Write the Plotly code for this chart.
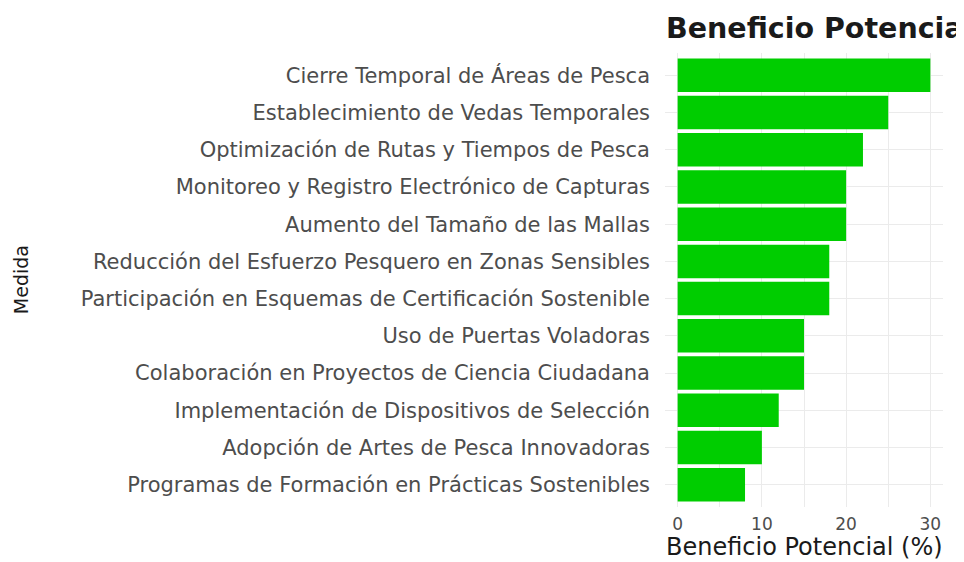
import plotly.graph_objects as go

medidas = [
    "Cierre Temporal de Áreas de Pesca",
    "Establecimiento de Vedas Temporales",
    "Optimización de Rutas y Tiempos de Pesca",
    "Monitoreo y Registro Electrónico de Capturas",
    "Aumento del Tamaño de las Mallas",
    "Reducción del Esfuerzo Pesquero en Zonas Sensibles",
    "Participación en Esquemas de Certificación Sostenible",
    "Uso de Puertas Voladoras",
    "Colaboración en Proyectos de Ciencia Ciudadana",
    "Implementación de Dispositivos de Selección",
    "Adopción de Artes de Pesca Innovadoras",
    "Programas de Formación en Prácticas Sostenibles",
]
beneficio = [30, 25, 22, 20, 20, 18, 18, 15, 15, 12, 10, 8]
x_ticks = [0, 10, 20, 30]

FONT = "DejaVu Sans, Arial, sans-serif"
GRID = "#EBEBEB"

fig = go.Figure(go.Bar(
    x=beneficio, y=medidas, orientation="h",
    marker=dict(color="#00CD00", line=dict(width=0)),
))

# page body adds an 8px offset, so the figure is 8px smaller
W, H = 956, 554
L, R, T, B = 657, 20.5, 44.5, 54.6
pw = W - L - R
ph = H - T - B

fig.update_layout(
    width=W, height=H,
    margin=dict(l=L, r=R, t=T, b=B, autoexpand=False),
    plot_bgcolor="white", paper_bgcolor="white",
    bargap=0.1, showlegend=False,
    font=dict(family=FONT),
    title=dict(text="<b>Beneficio Potencial de las Medidas</b>", x=658 / W, xanchor="left",
               y=1 - 20 / H, yanchor="middle",
               font=dict(size=28.5, color="#1A1A1A", family=FONT)),
    xaxis=dict(range=[-1.5, 31.5], tickvals=x_ticks, showgrid=True, gridcolor=GRID,
               gridwidth=1.2, zeroline=False, showline=False, ticks="",
               tickfont=dict(size=17, color="#4D4D4D"), ticklabelstandoff=5,
               minor=dict(dtick=5, tick0=0, showgrid=True, gridcolor=GRID, gridwidth=0.6),
               fixedrange=True),
    yaxis=dict(autorange=False, range=[11.6, -0.6], showgrid=True, gridcolor=GRID,
               gridwidth=1.2, zeroline=False, showline=False, ticks="",
               tickfont=dict(size=21, color="#4D4D4D"), ticklabelstandoff=14,
               fixedrange=True),
    annotations=[
        dict(text="Beneficio Potencial (%)", xref="paper", yref="paper",
             x=(797 - L) / pw, y=-(539.5 - (H - B)) / ph, xanchor="center", yanchor="middle",
             showarrow=False, font=dict(size=24, color="#1A1A1A", family=FONT)),
        dict(text="Medida", xref="paper", yref="paper",
             x=(12 - L) / pw, y=0.5, xanchor="center", yanchor="middle", textangle=-90,
             showarrow=False, font=dict(size=19, color="#1A1A1A", family=FONT)),
    ],
)

fig.write_html("out.html")
